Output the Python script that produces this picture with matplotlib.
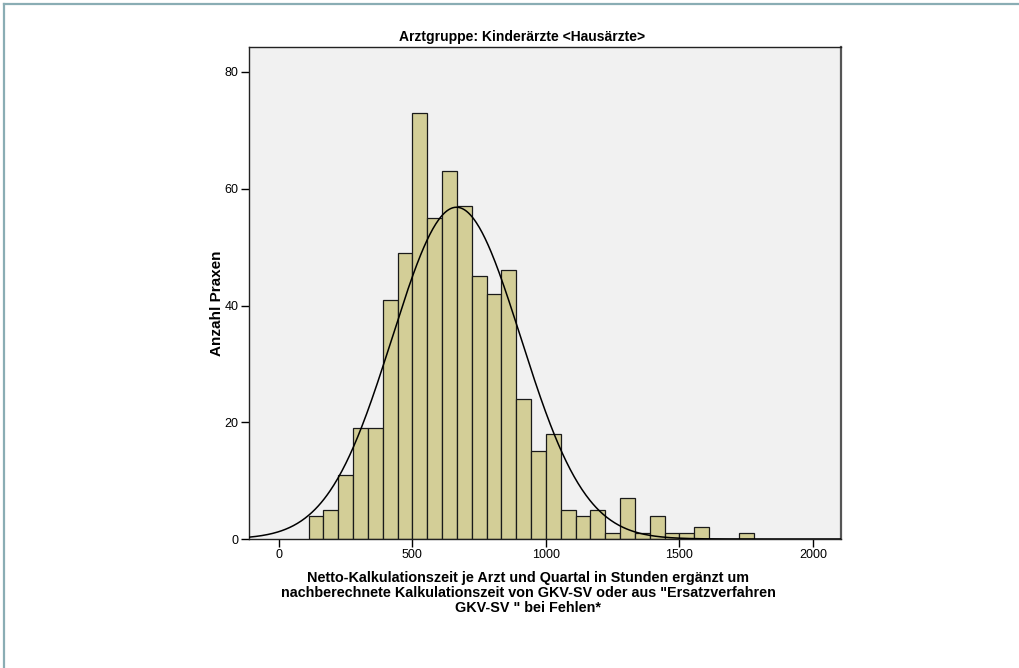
# -*- coding: utf-8 -*-
"""
Histogramm der Netto-Kalkulationszeit (Kinderärzte) mit Normalverteilungskurve
"""

import numpy as np
import matplotlib.pyplot as plt
from matplotlib import rcParams
from matplotlib.lines import Line2D

rcParams['font.family'] = ['Liberation Sans', 'DejaVu Sans']

# Klassenbreite und Häufigkeiten je Klasse (erste Klasse ab 111,1 Std.)
bin_width = 500 / 9
bin_start = 2 * bin_width
counts = [4, 5, 11, 19, 19, 41, 49, 73, 55, 63, 57, 45, 42, 46, 24, 15,
          18, 5, 4, 5, 1, 7, 1, 4, 1, 1, 2, 0, 0, 1]

# Parameter der Normalverteilungskurve
mean_h = 665
sd_h = 241

x_ticks = [0, 500, 1000, 1500, 2000]
y_ticks = [0, 20, 40, 60, 80]

title = 'Arztgruppe: Kinderärzte <Hausärzte>'
x_label = ('Netto-Kalkulationszeit je Arzt und Quartal in Stunden ergänzt um\n'
           'nachberechnete Kalkulationszeit von GKV-SV oder aus "Ersatzverfahren\n'
           'GKV-SV " bei Fehlen*')
y_label = 'Anzahl Praxen'

left_edges = bin_start + bin_width * np.arange(len(counts))
n_total = sum(counts)

fig = plt.figure(figsize=(10.2, 6.68), dpi=100)
fig.patch.set_facecolor('white')
W, H = 1020, 668
ax = fig.add_axes([249 / W, 1 - 539 / H, (841 - 249) / W, (539 - 47) / H])
ax.set_facecolor('#f1f1f1')

ax.bar(left_edges, counts, width=bin_width, align='edge',
       color='#d3ce97', edgecolor='#1a1a1a', linewidth=0.9, zorder=2)

# Normalverteilung auf Häufigkeiten skaliert
xs = np.linspace(-112, 2105, 600)
ys = n_total * bin_width / (sd_h * np.sqrt(2 * np.pi)) * np.exp(-0.5 * ((xs - mean_h) / sd_h) ** 2)
ax.plot(xs, ys, color='black', linewidth=1.1, zorder=3)

ax.set_xlim(-112, 2105)
ax.set_ylim(0, 80 * (539 - 47) / (539 - 72))
ax.set_xticks(x_ticks)
ax.set_yticks(y_ticks)
ax.tick_params(direction='out', length=6, width=1, labelsize=9, pad=1.5)
for sp in ax.spines.values():
    sp.set_linewidth(1)
    sp.set_color('#222222')
ax.spines['right'].set_linewidth(1.6)
ax.spines['right'].set_color('#555555')

fig.text(522 / W, 1 - 37 / H, title, ha='center', va='center',
         fontsize=10, fontweight='bold')
fig.text(528 / W, 1 - 593 / H, x_label, ha='center', va='center',
         fontsize=10.4, fontweight='bold', linespacing=1.07)
fig.text(217 / W, 1 - 303 / H, y_label, ha='center', va='center',
         rotation=90, fontsize=11, fontweight='bold')

# Rahmen oben und links
frame_col = '#8aadb4'
fig.add_artist(Line2D([4.5 / W, 4.5 / W], [0, 1 - 4 / H], color=frame_col, linewidth=1.6))
fig.add_artist(Line2D([4.5 / W, 1], [1 - 4 / H, 1 - 4 / H], color=frame_col, linewidth=1.6))

fig.savefig('out.png', dpi=100)
